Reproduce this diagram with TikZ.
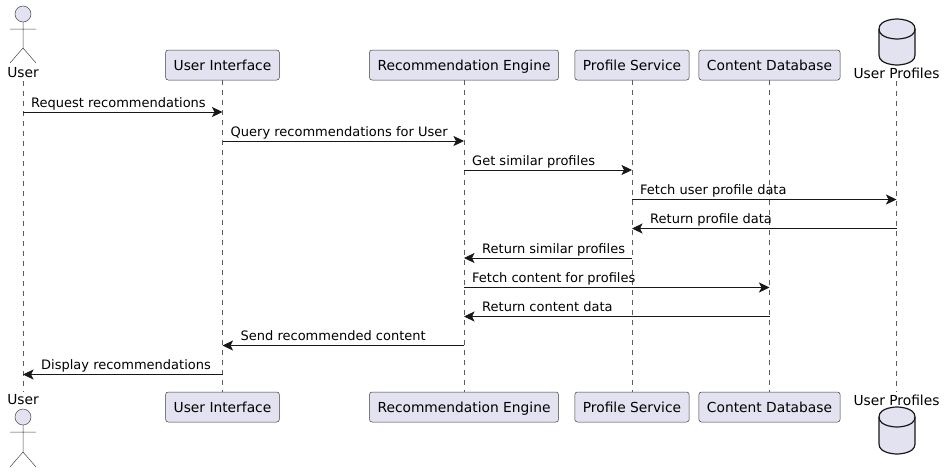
\documentclass[tikz,border=0pt]{standalone}
\usepackage{fontspec}
\setmainfont{DejaVu Sans}
\usepackage{xcolor}
\definecolor{seqFill}{HTML}{E2E2F0}
\definecolor{seqLine}{HTML}{181818}
\usetikzlibrary{arrows.meta,positioning,calc}

\begin{document}
\begin{tikzpicture}[
        x=1pt, y=-1pt,
        box/.style={draw=seqLine!85, line width=0.5pt, fill=seqFill, rounded corners=2.5pt,
          font=\fontsize{13.8}{16}\selectfont, inner xsep=8pt, inner ysep=0pt,
          minimum height=30pt, text height=10.5pt, text depth=0pt, align=center},
        lifename/.style={font=\fontsize{13.8}{16}\selectfont, inner sep=0pt,
          minimum height=16pt},
        msglabel/.style={font=\fontsize{13}{15}\selectfont, inner sep=0pt, anchor=base west},
        lifeline/.style={draw=seqLine!70, line width=0.5pt, dash pattern=on 5pt off 5pt},
        msg/.style={-{Stealth[length=10.5pt,width=10pt,inset=2.5pt]}, draw=seqLine, line width=0.8pt},
        figure/.style={draw=seqLine!80, line width=0.5pt},
        cylinder line/.style={draw=seqLine, line width=1.2pt, fill=seqFill}
      ]
        \useasboundingbox (0,0) rectangle (944,472);
        % top row
        \node[lifename] (userTop) at (23,73) {User};
        \node[box] (uiTop) at (222.5,65) {User Interface};
        \node[box] (engineTop) at (464,65) {Recommendation Engine};
        \node[box] (profileTop) at (632,65) {Profile Service};
        \node[box] (contentTop) at (769.5,65) {Content Database};
        \node[lifename] (dbTop) at (896.5,73) {User Profiles};
        % bottom row
        \node[lifename] (userBot) at (23,400) {User};
        \node[box] (uiBot) at (222.5,407) {User Interface};
        \node[box] (engineBot) at (464,407) {Recommendation Engine};
        \node[box] (profileBot) at (632,407) {Profile Service};
        \node[box] (contentBot) at (769.5,407) {Content Database};
        \node[lifename] (dbBot) at (896.5,400) {User Profiles};
        % lifelines
        \draw[lifeline] (userTop) -- (userBot);
        \draw[lifeline] (uiTop) -- (uiBot);
        \draw[lifeline] (engineTop) -- (engineBot);
        \draw[lifeline] (profileTop) -- (profileBot);
        \draw[lifeline] (contentTop) -- (contentBot);
        \draw[lifeline] (dbTop) -- (dbBot);
        % actors
        \draw[figure, fill=seqFill] (23,14) circle (8);
        \draw[figure] (23,22) -- (23,48) (10,29) -- (36,29) (10,63) -- (23,48) -- (36,63);
        \draw[figure, fill=seqFill] (23,417) circle (8);
        \draw[figure] (23,425) -- (23,452) (10,432) -- (36,432) (10,467) -- (23,452) -- (36,467);
        % databases
        \draw[cylinder line] (879,29) .. controls (879,19) and (897,19) .. (897,19)
          .. controls (897,19) and (915,19) .. (915,29) -- (915,55)
          .. controls (915,65) and (897,65) .. (897,65)
          .. controls (897,65) and (879,65) .. (879,55) -- cycle;
        \draw[cylinder line, fill=none] (879,29) .. controls (879,39) and (897,39) .. (897,39)
          .. controls (897,39) and (915,39) .. (915,29);
        \draw[cylinder line] (879,417) .. controls (879,407) and (897,407) .. (897,407)
          .. controls (897,407) and (915,407) .. (915,417) -- (915,444)
          .. controls (915,454) and (897,454) .. (897,454)
          .. controls (897,454) and (879,454) .. (879,444) -- cycle;
        \draw[cylinder line, fill=none] (879,417) .. controls (879,427) and (897,427) .. (897,427)
          .. controls (897,427) and (915,427) .. (915,417);
        % message rows
        \coordinate (row1) at (0,112);
        \coordinate (row2) at (0,141);
        \coordinate (row3) at (0,170);
        \coordinate (row4) at (0,199.5);
        \coordinate (row5) at (0,228.5);
        \coordinate (row6) at (0,258);
        \coordinate (row7) at (0,287.5);
        \coordinate (row8) at (0,316.5);
        \coordinate (row9) at (0,345.5);
        \coordinate (row10) at (0,374.5);
        % messages
        \draw[msg] (userTop |- row1) -- (uiTop |- row1);
        \node[msglabel] (label1) at (31,107) {Request recommendations};
        \draw[msg] (uiTop |- row2) -- (engineTop |- row2);
        \node[msglabel] (label2) at (230.5,136) {Query recommendations for User};
        \draw[msg] (engineTop |- row3) -- (profileTop |- row3);
        \node[msglabel] (label3) at (472,165) {Get similar profiles};
        \draw[msg] (profileTop |- row4) -- (dbTop |- row4);
        \node[msglabel] (label4) at (640,194.5) {Fetch user profile data};
        \draw[msg] (dbTop |- row5) -- (profileTop |- row5);
        \node[msglabel] (label5) at (650,223.5) {Return profile data};
        \draw[msg] (profileTop |- row6) -- (engineTop |- row6);
        \node[msglabel] (label6) at (482,253) {Return similar profiles};
        \draw[msg] (engineTop |- row7) -- (contentTop |- row7);
        \node[msglabel] (label7) at (472,282.5) {Fetch content for profiles};
        \draw[msg] (contentTop |- row8) -- (engineTop |- row8);
        \node[msglabel] (label8) at (482,311.5) {Return content data};
        \draw[msg] (engineTop |- row9) -- (uiTop |- row9);
        \node[msglabel] (label9) at (240.5,340.5) {Send recommended content};
        \draw[msg] (uiTop |- row10) -- (userTop |- row10);
        \node[msglabel] (label10) at (41,369.5) {Display recommendations};
      \end{tikzpicture}
\end{document}
